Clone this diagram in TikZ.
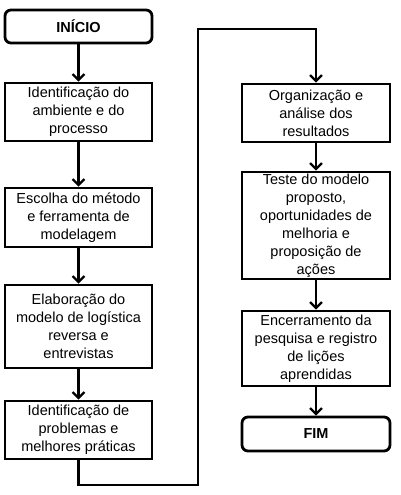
\documentclass[tikz,border=0pt]{standalone}
\usepackage{fontspec}
\setmainfont{Liberation Sans}
\usetikzlibrary{arrows.meta, positioning}

\begin{document}
\begin{tikzpicture}[x=1pt, y=-1pt,
    stepbox/.style={draw, line width=2.8pt, align=center, inner sep=0pt,
        font=\fontsize{14.5}{18}\selectfont},
    termbox/.style={stepbox, rounded corners=6pt, font=\fontsize{14.5}{18}\selectfont\bfseries},
    arr/.style={line width=2.2pt, -{Straight Barb[length=6pt, width=12pt, line width=2.2pt]}}]
    \useasboundingbox (0,0) rectangle (400,495);
    % left column
    \node[termbox, minimum width=147pt, minimum height=33pt] (inicio) at (78.5,26.5) {INÍCIO};
    \node[stepbox, minimum width=147pt, minimum height=58pt] (ident) at (78.5,112) {Identificação do\\ambiente e do\\processo};
    \node[stepbox, minimum width=147pt, minimum height=59pt] (escolha) at (78.5,217.5) {Escolha do método\\e ferramenta de\\modelagem};
    \node[stepbox, minimum width=147pt, minimum height=83pt] (elab) at (78.5,326.5) {Elaboração do\\modelo de logística\\reversa e\\entrevistas};
    \node[stepbox, minimum width=147pt, minimum height=58pt] (probl) at (78.5,430) {Identificação de\\problemas e\\melhores práticas};
    % right column
    \node[stepbox, minimum width=148pt, minimum height=58pt] (organ) at (316,113) {Organização e\\análise dos\\resultados};
    \node[stepbox, minimum width=148pt, minimum height=107pt] (teste) at (316,225.5) {Teste do modelo\\proposto,\\oportunidades de\\melhoria e\\proposição de\\ações};
    \node[stepbox, minimum width=148pt, minimum height=75pt] (encerr) at (316,348.5) {Encerramento da\\pesquisa e registro\\de lições\\aprendidas};
    \node[termbox, minimum width=148pt, minimum height=34pt] (fim) at (316,434) {FIM};
    % connectors
    \coordinate (lowturn) at (198,485);
    \coordinate (upturn) at (198,29);
    \draw[arr] (inicio) -- (ident);
    \draw[arr] (ident) -- (escolha);
    \draw[arr] (escolha) -- (elab);
    \draw[arr] (elab) -- (probl);
    \draw[arr] (probl) -- (probl |- lowturn) -| (upturn) -| (organ);
    \draw[arr] (organ) -- (teste);
    \draw[arr] (teste) -- (encerr);
    \draw[arr] (encerr) -- (fim);
\end{tikzpicture}
\end{document}
